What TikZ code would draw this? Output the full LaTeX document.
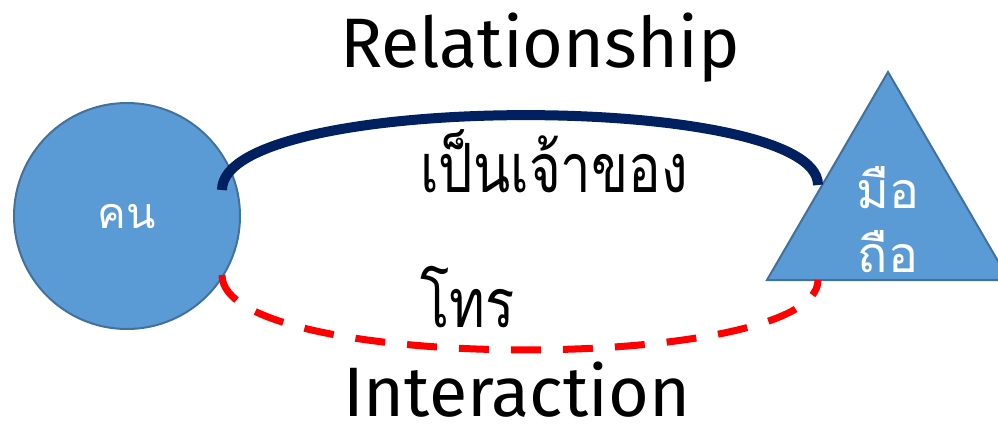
\documentclass[tikz,border=0pt]{standalone}
\usepackage{fontspec}
\setmainfont{Fira Sans}
\newfontfamily\thaifont[Script=Thai]{Loma}
\newfontfamily\thaicond[Script=Thai, FakeStretch=0.8]{Loma}
\definecolor{shapefill}{HTML}{5B9BD5}
\definecolor{shapeline}{HTML}{41719C}
\definecolor{navyline}{HTML}{002060}
\tikzset{
  shapestyle/.style={fill=shapefill, draw=shapeline, line width=2pt},
  bigtext/.style={font=\fontsize{70}{74}\selectfont, inner sep=0pt, anchor=base west},
  thaitext/.style={font=\thaicond\fontsize{68}{72}\selectfont, inner sep=0pt, anchor=base west},
  whitetext/.style={text=white, inner sep=0pt, anchor=base}
}
\begin{document}
\begin{tikzpicture}[x=1pt,y=-1pt]
\useasboundingbox (0,0) rectangle (998,426);
\clip (0,0) rectangle (998,426);
% shapes
\node[shapestyle, circle, minimum size=226pt, inner sep=0pt] (person) at (127,216) {};
\path[shapestyle] (888,72) -- (1009,280) -- (767,280) -- cycle;
\coordinate (phone) at (888,200);
% connectors
\coordinate (a1) at (222,190);
\coordinate (a2) at (818,185);
\coordinate (b1) at (222,275);
\coordinate (b2) at (818,280);
\draw[navyline, line width=10pt] (a1) .. controls (222,91) and (818,91) .. (a2);
\draw[red, line width=7pt, dash pattern=on 30pt off 22pt] (b1) .. controls (222,374) and (818,374) .. (b2);
% labels
\node[whitetext, font=\thaifont\fontsize{43}{47}\selectfont] (pl) at (127,228) {คน};
\node[whitetext, font=\thaifont\fontsize{50}{54}\selectfont] (ml1) at (888,208) {มือ};
\node[whitetext, font=\thaifont\fontsize{50}{54}\selectfont] (ml2) at (888,272) {ถือ};
\node[bigtext] (rel) at (340,67) {Relationship};
\node[bigtext] (int) at (343,416) {Interaction};
\node[thaitext] (own) at (420,192) {เป็นเจ้าของ};
\node[thaitext] (call) at (420,327) {โทร};
\end{tikzpicture}
\end{document}
